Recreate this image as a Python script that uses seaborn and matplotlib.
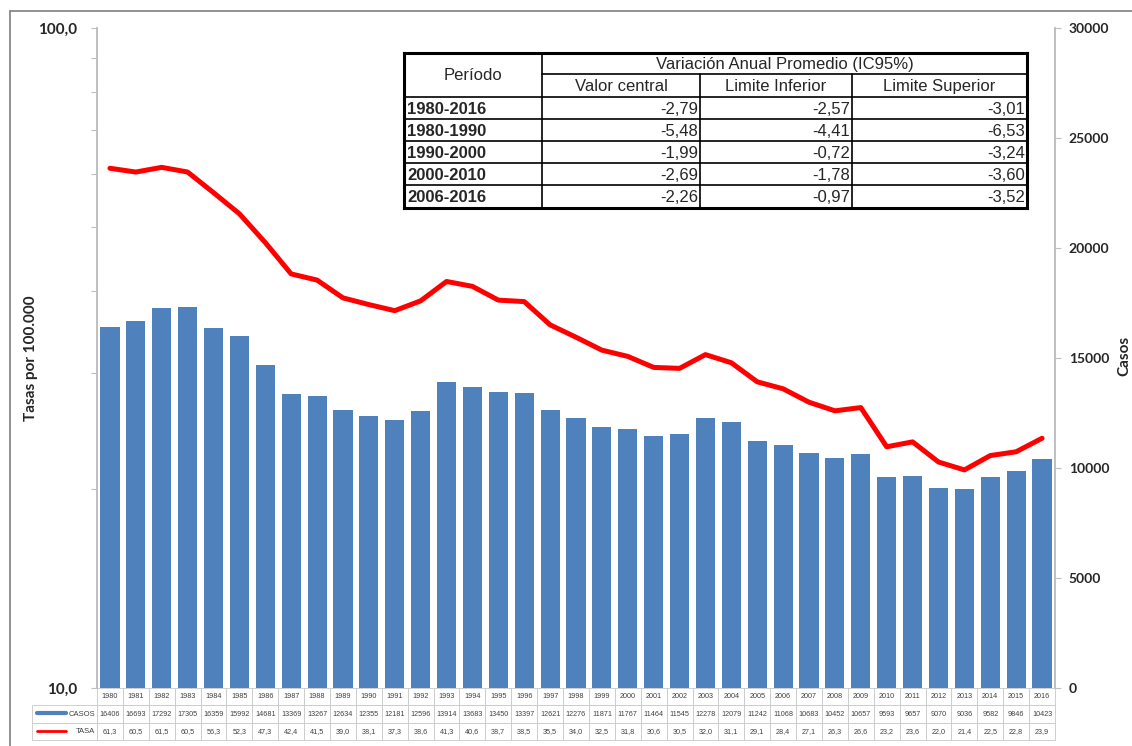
import numpy as np
import matplotlib
matplotlib.use('Agg')
import matplotlib.pyplot as plt
import seaborn as sns
from matplotlib.lines import Line2D
from matplotlib.ticker import FixedLocator, FuncFormatter

years = list(range(1980, 2017))
casos = [16406, 16693, 17292, 17305, 16359, 15992, 14681, 13369, 13267, 12634,
         12355, 12181, 12596, 13914, 13683, 13450, 13397, 12621, 12276, 11871,
         11767, 11464, 11545, 12278, 12079, 11242, 11068, 10683, 10452, 10657,
         9593, 9657, 9070, 9036, 9582, 9846, 10423]
tasa = [61.3, 60.5, 61.5, 60.5, 56.3, 52.3, 47.3, 42.4, 41.5, 39.0,
        38.1, 37.3, 38.6, 41.3, 40.6, 38.7, 38.5, 35.5, 34.0, 32.5,
        31.8, 30.6, 30.5, 32.0, 31.1, 29.1, 28.4, 27.1, 26.3, 26.6,
        23.2, 23.6, 22.0, 21.4, 22.5, 22.8, 23.9]

periodos = ['1980-2016', '1980-1990', '1990-2000', '2000-2010', '2006-2016']
valor_central = [-2.79, -5.48, -1.99, -2.69, -2.26]
limite_inferior = [-2.57, -4.41, -0.72, -1.78, -0.97]
limite_superior = [-3.01, -6.53, -3.24, -3.60, -3.52]

BLUE = '#4f81bd'
RED = '#ff0000'
W, H = 1132, 746

sns.set_theme(style='white')
plt.rcParams['font.family'] = ['Lato', 'DejaVu Sans']
NARROW = ['Liberation Sans Narrow', 'Liberation Sans', 'DejaVu Sans']


def fx(px):
    return px / W


def fy(py):
    return 1 - py / H


def coma(v, nd=1):
    return f'{v:.{nd}f}'.replace('.', ',')


fig = plt.figure(figsize=(W / 100, H / 100), dpi=100)
ax = fig.add_axes([fx(97), fy(688), fx(1055) - fx(97), fy(28) - fy(688)])
ax2 = ax.twinx()

# bars: cases (right axis)
sns.barplot(x=[str(y) for y in years], y=casos, ax=ax, color=BLUE,
            saturation=1, width=0.74, edgecolor='none')
ax.set_xlim(-0.5, len(years) - 0.5)
ax.set_ylim(0, 30000)
ax.set_yticks(range(0, 30001, 5000))
ax.yaxis.tick_right()
ax.tick_params(axis='y', which='major', length=4, width=0.8, color='#bfbfbf',
               labelsize=10, pad=6, direction='out', right=True, left=False,
               labelright=True, labelleft=False)
for lab in ax.get_yticklabels():
    lab.set_fontweight('bold')
ax.set_xticks([])
ax.set_xlabel('')
ax.set_ylabel('')

# line: rate (left log axis)
sns.lineplot(x=np.arange(len(years)), y=tasa, ax=ax2, color=RED, lw=3.6)
ax2.set_yscale('log')
ax2.set_ylim(10, 100)
ax2.yaxis.tick_left()
ax2.yaxis.set_major_locator(FixedLocator([10, 100]))
ax2.yaxis.set_minor_locator(FixedLocator([20, 30, 40, 50, 60, 70, 80, 90]))
ax2.yaxis.set_major_formatter(FuncFormatter(lambda v, p: coma(v)))
ax2.yaxis.set_minor_formatter(FuncFormatter(lambda v, p: ''))
ax2.tick_params(axis='y', which='both', length=4, width=0.8, color='#bfbfbf',
                labelsize=11, pad=10, direction='out', left=True, right=False,
                labelleft=True, labelright=False)
for lab in ax2.get_yticklabels():
    lab.set_fontweight('bold')
ax2.set_ylabel('')

for a in (ax, ax2):
    for s in ('top', 'bottom'):
        a.spines[s].set_visible(False)
    a.spines['left'].set_color('#bfbfbf')
    a.spines['right'].set_color('#bfbfbf')

fig.text(fx(31), fy(358), 'Tasas por 100.000', rotation=90, ha='center',
         va='center', fontsize=11, fontweight='bold')
fig.text(fx(1124), fy(356), 'Casos', rotation=90, ha='center', va='center',
         fontsize=11, fontweight='bold')

# data table under the axis
ncol = len(years)
lab_w = (97 - 32) / 958
cell_text = [['CASOS'] + [str(c) for c in casos],
             ['TASA'] + [coma(t) for t in tasa]]
tbl = ax.table(cellText=cell_text, colLabels=[''] + [str(y) for y in years],
               colWidths=[lab_w] + [1 / ncol] * ncol, cellLoc='center',
               bbox=[-lab_w, -52 / 660, 1 + lab_w, 52 / 660])
tbl.auto_set_font_size(False)
tbl.set_fontsize(5.2)
for (r, c), cell in tbl.get_celld().items():
    cell.set_edgecolor('#c8c8c8')
    cell.set_linewidth(0.6)
    cell.get_text().set_fontfamily(['Liberation Sans', 'DejaVu Sans'])
    cell.get_text().set_color('#404040')
    if c == 0:
        cell.get_text().set_fontsize(5.5)
        cell.get_text().set_horizontalalignment('right')
        cell.PAD = 0.03
        if r == 0:
            cell.visible_edges = 'open'

for py, col in ((713, BLUE), (731, RED)):
    fig.add_artist(Line2D([fx(37), fx(66)], [fy(py), fy(py)], color=col,
                          lw=3 if col == BLUE else 2))

# summary table
bx0, bx1, by0, by1 = 404, 1027, 53, 208
tax = fig.add_axes([fx(bx0), fy(by1), fx(bx1) - fx(bx0), fy(by0) - fy(by1)])
tax.set_xlim(bx0, bx1)
tax.set_ylim(by1, by0)
tax.patch.set_facecolor('white')
tax.set_xticks([])
tax.set_yticks([])
for s in tax.spines.values():
    s.set_visible(True)
    s.set_color('black')
    s.set_linewidth(2.2)

cols = [542, 700, 852]
rows = [74, 97, 119, 141, 163, 185]
tax.plot([cols[0], cols[0]], [by0, by1], color='black', lw=1.2)
for cx in cols[1:]:
    tax.plot([cx, cx], [rows[0], by1], color='black', lw=1.2)
tax.plot([cols[0], bx1], [rows[0], rows[0]], color='black', lw=1.2)
for ry in rows[1:]:
    tax.plot([bx0, bx1], [ry, ry], color='black', lw=1.2)

tfs = 12
tax.text((bx0 + cols[0]) / 2, (by0 + rows[1]) / 2, 'Período', ha='center',
         va='center', fontsize=tfs, family=NARROW)
tax.text((cols[0] + bx1) / 2, (by0 + rows[0]) / 2 + 1,
         'Variación Anual Promedio (IC95%)', ha='center', va='center',
         fontsize=tfs, family=NARROW)
edges = [cols[0], cols[1], cols[2], bx1]
for i, name in enumerate(['Valor central', 'Limite Inferior', 'Limite Superior']):
    tax.text((edges[i] + edges[i + 1]) / 2, (rows[0] + rows[1]) / 2 + 1, name,
             ha='center', va='center', fontsize=tfs, family=NARROW)
bounds = rows[1:] + [by1]
for j, per in enumerate(periodos):
    yc = (bounds[j] + bounds[j + 1]) / 2 + 1
    tax.text(bx0 + 3, yc, per, ha='left', va='center', fontsize=tfs,
             fontweight='bold', family=NARROW)
    for i, vals in enumerate([valor_central, limite_inferior, limite_superior]):
        tax.text(edges[i + 1] - 2, yc, coma(vals[j], 2), ha='right',
                 va='center', fontsize=tfs, family=NARROW)

# outer chart frame
fig.add_artist(Line2D([fx(10), fx(10)], [fy(11), 0], color='#7f7f7f', lw=1.2))
fig.add_artist(Line2D([fx(10), 1], [fy(11), fy(11)], color='#7f7f7f', lw=1.2))

fig.savefig('out.png', dpi=100)
